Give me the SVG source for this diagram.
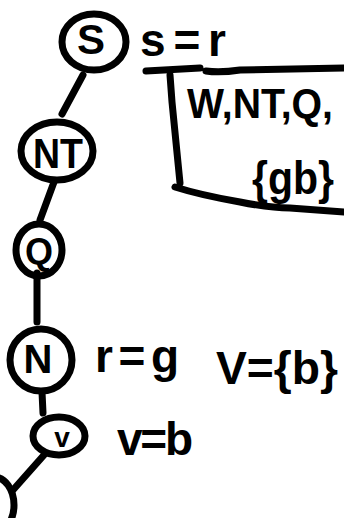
<svg xmlns="http://www.w3.org/2000/svg" width="344" height="518" viewBox="0 0 344 518">
<style>
.n{fill:none;stroke:#000;stroke-width:7;stroke-linecap:round;stroke-linejoin:round}
.e{fill:none;stroke:#000;stroke-width:7;stroke-linecap:round}
.t{font-family:"Liberation Sans",Arial,sans-serif;font-weight:bold;fill:#000}
</style>
<rect width="344" height="518" fill="#fff"/>
<g id="connectors">
<path class="e" d="M83 75 L62 114"/>
<path class="e" d="M54 182 L40 220"/>
<path class="e" d="M37 273 L37 322"/>
<path class="e" d="M42 392 L43 413"/>
<path class="e" d="M44 455 L13 490"/>
</g>
<g id="node-S">
<ellipse class="n" cx="94" cy="42" rx="32" ry="28"/>
<text class="t" x="91" y="54" font-size="42" text-anchor="middle">S</text>
</g>
<g id="node-NT">
<ellipse class="n" cx="57" cy="151" rx="36" ry="29"/>
<text class="t" x="58" y="168" font-size="42" text-anchor="middle" textLength="50" lengthAdjust="spacingAndGlyphs">NT</text>
</g>
<g id="node-Q">
<ellipse class="n" cx="39" cy="250" rx="23" ry="26"/>
<text class="t" x="39" y="264" font-size="36" text-anchor="middle">Q</text>
</g>
<g id="node-N">
<ellipse class="n" cx="41" cy="360" rx="31" ry="31"/>
<text class="t" x="38" y="373" font-size="40" text-anchor="middle">N</text>
</g>
<g id="node-V">
<ellipse class="n" cx="59" cy="436" rx="26" ry="19"/>
<text class="t" x="62" y="447" font-size="28" text-anchor="middle">v</text>
</g>
<g id="node-next">
<ellipse class="n" cx="-6" cy="505" rx="20" ry="28"/>
</g>
<g id="labels">
<text class="t" x="140" y="56" font-size="46" textLength="86" lengthAdjust="spacing">s=r</text>
<path class="e" d="M146 71 L200 68 M206 71 Q220 73 240 70 L344 68"/>
<path class="e" d="M170 75 L172 102 M172 102 L180 183"/>
<path class="e" d="M175 187 Q200 195 240 202 Q270 208 290 208 L344 212"/>
<text class="t" x="187" y="118" font-size="42" textLength="146" lengthAdjust="spacingAndGlyphs">W,NT,Q,</text>
<text class="t" x="252" y="194" font-size="46" textLength="82" lengthAdjust="spacingAndGlyphs">{gb}</text>
<text class="t" x="95" y="372" font-size="46" textLength="84" lengthAdjust="spacing">r=g</text>
<text class="t" x="216" y="384" font-size="46" textLength="122" lengthAdjust="spacingAndGlyphs">V={b}</text>
<text class="t" x="117" y="455" font-size="46" textLength="76" lengthAdjust="spacing">v=b</text>
</g>
</svg>
